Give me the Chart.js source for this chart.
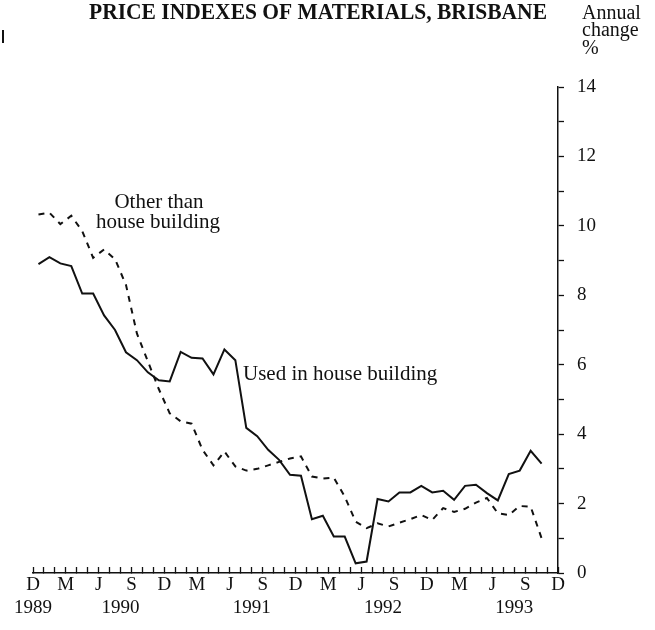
<!DOCTYPE html>
<html>
<head>
<meta charset="utf-8">
<script src="https://cdn.jsdelivr.net/npm/chart.js"></script>
<style>
  body { margin: 0; background: #fff; }
  #wrap { width: 655px; height: 630px; }
</style>
</head>
<body>
<div id="wrap"><canvas id="chart" width="655" height="630"></canvas></div>
<script>
// Annual change %, monthly from Dec 1989 to Oct 1993
const usedInHouseBuilding = [
    8.9, 9.1, 8.92, 8.84, 8.05, 8.05, 7.42, 7.0, 6.36, 6.13, 5.78, 5.55,
    5.52, 6.37, 6.2, 6.18, 5.72, 6.44, 6.13, 4.18, 3.94, 3.55, 3.26, 2.83,
    2.8, 1.55, 1.65, 1.05, 1.05, 0.28, 0.33, 2.13, 2.06, 2.32, 2.32, 2.51,
    2.32, 2.37, 2.11, 2.51, 2.54, 2.3, 2.09, 2.85, 2.95, 3.52, 3.15
];
const otherThanHouseBuilding = [
    10.33, 10.38, 10.05, 10.29, 9.85, 9.08, 9.32, 9.04, 8.3, 6.9, 6.1, 5.3,
    4.6, 4.37, 4.3, 3.55, 3.1, 3.5, 3.07, 2.95, 3.0, 3.1, 3.2, 3.3,
    3.36, 2.78, 2.72, 2.75, 2.2, 1.48, 1.29, 1.43, 1.34, 1.45, 1.55, 1.67,
    1.53, 1.87, 1.76, 1.85, 2.03, 2.16, 1.72, 1.67, 1.93, 1.91, 1.0
];

// x axis: one tick per month, letter every quarter (D M J S)
const quarterLetters = ['D', 'M', 'J', 'S'];
const yearLabels = ['1989', '1990', '1991', '1992', '1993'];
const yearTickMonths = [0, 8, 20, 32, 44];

const yTickLabels = ['0', '2', '4', '6', '8', '10', '12', '14'];

const serif = '"Liberation Serif", "DejaVu Serif", serif';

// points sit in the middle of their month
const toPoints = arr => arr.map((v, i) => ({ x: i + 0.5, y: v }));

const textPlugin = {
    id: 'textPlugin',
    afterDraw(chart) {
        const ctx = chart.ctx;
        ctx.save();
        ctx.fillStyle = '#111';
        ctx.textBaseline = 'alphabetic';

        // title (top edge is clipped in the original)
        ctx.font = 'bold 24px ' + serif;
        ctx.textAlign = 'left';
        ctx.fillText('PRICE INDEXES OF MATERIALS, BRISBANE', 89, 19, 458);

        // axis unit
        ctx.font = '20px ' + serif;
        ctx.fillText('Annual', 582, 19);
        ctx.fillText('change', 582, 36);
        ctx.fillText('%', 582, 54);

        // series labels
        ctx.font = '21px ' + serif;
        ctx.textAlign = 'center';
        ctx.fillText('Other than', 159, 208);
        ctx.fillText('house building', 158, 228);
        ctx.textAlign = 'left';
        ctx.fillText('Used in house building', 243, 380);

        // little mark at the left edge
        ctx.strokeStyle = '#111';
        ctx.lineWidth = 2;
        ctx.beginPath();
        ctx.moveTo(3, 30);
        ctx.lineTo(3, 43);
        ctx.stroke();
        ctx.restore();
    }
};

new Chart(document.getElementById('chart'), {
    type: 'line',
    data: {
        datasets: [
            {
                label: 'Used in house building',
                data: toPoints(usedInHouseBuilding),
                borderColor: '#111',
                borderWidth: 2,
                pointRadius: 0,
                tension: 0
            },
            {
                label: 'Other than house building',
                data: toPoints(otherThanHouseBuilding),
                borderColor: '#111',
                borderWidth: 2,
                borderDash: [6, 6],
                pointRadius: 0,
                tension: 0
            }
        ]
    },
    options: {
        responsive: false,
        animation: false,
        layout: { padding: { left: 33, top: 87, right: 0, bottom: 0 } },
        plugins: {
            legend: { display: false },
            tooltip: { enabled: false }
        },
        scales: {
            x: {
                type: 'linear',
                min: 0,
                max: 48,
                afterFit: scale => { scale.height = 57; },
                border: { display: true, color: '#111', width: 1.5 },
                grid: {
                    drawOnChartArea: false,
                    drawTicks: true,
                    tickLength: -6,
                    tickColor: '#111',
                    tickWidth: 1.3
                },
                ticks: {
                    stepSize: 1,
                    autoSkip: false,
                    maxRotation: 0,
                    padding: 7,
                    color: '#111',
                    font: { family: serif, size: 19, lineHeight: 1.2 },
                    callback: function (value) {
                        const letter = value % 3 === 0 ? quarterLetters[(value / 3) % 4] : '';
                        const yi = yearTickMonths.indexOf(value);
                        if (yi >= 0) return [letter, yearLabels[yi]];
                        return letter;
                    }
                }
            },
            y: {
                position: 'right',
                min: 0,
                max: 14,
                afterFit: scale => { scale.width = 97; },
                border: { display: true, color: '#111', width: 1.5 },
                grid: {
                    drawOnChartArea: false,
                    drawTicks: true,
                    tickLength: 6,
                    tickColor: '#111',
                    tickWidth: 1.3
                },
                ticks: {
                    stepSize: 1,
                    autoSkip: false,
                    padding: 13,
                    color: '#111',
                    font: { family: serif, size: 19 },
                    callback: function (value) {
                        return value % 2 === 0 ? yTickLabels[value / 2] : '';
                    }
                }
            }
        }
    },
    plugins: [textPlugin]
});
</script>
</body>
</html>
